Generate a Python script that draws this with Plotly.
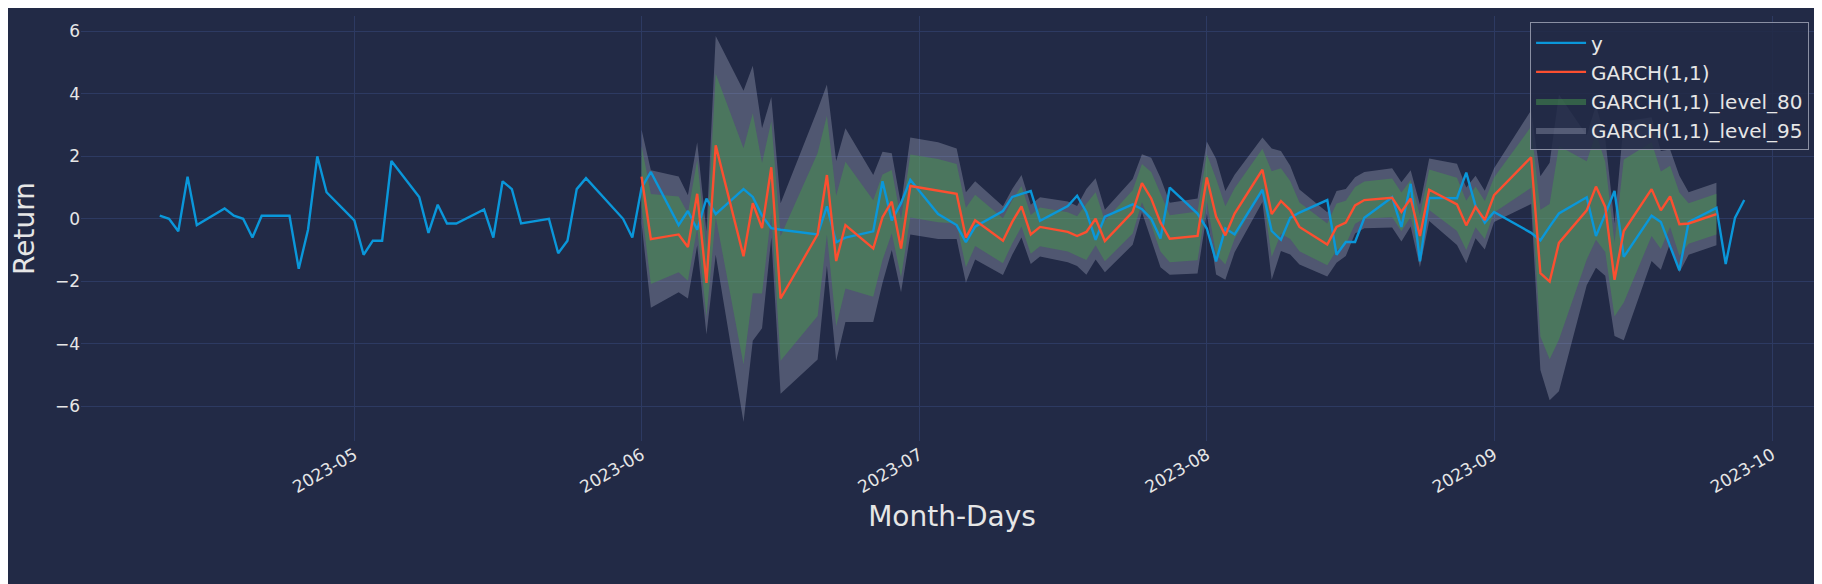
import plotly.graph_objects as go

# observed returns
y_dates = [
    "2023-04-10", "2023-04-11", "2023-04-12", "2023-04-13", "2023-04-14",
    "2023-04-17", "2023-04-18", "2023-04-19", "2023-04-20", "2023-04-21",
    "2023-04-24", "2023-04-25", "2023-04-26", "2023-04-27", "2023-04-28",
    "2023-05-01", "2023-05-02", "2023-05-03", "2023-05-04", "2023-05-05",
    "2023-05-08", "2023-05-09", "2023-05-10", "2023-05-11", "2023-05-12",
    "2023-05-15", "2023-05-16", "2023-05-17", "2023-05-18", "2023-05-19",
    "2023-05-22", "2023-05-23", "2023-05-24", "2023-05-25", "2023-05-26",
    "2023-05-30", "2023-05-31", "2023-06-01", "2023-06-02",
    "2023-06-05", "2023-06-06", "2023-06-07", "2023-06-08", "2023-06-09",
    "2023-06-12", "2023-06-13", "2023-06-14", "2023-06-15", "2023-06-16",
    "2023-06-20", "2023-06-21", "2023-06-22", "2023-06-23",
    "2023-06-26", "2023-06-27", "2023-06-28", "2023-06-29", "2023-06-30",
    "2023-07-03", "2023-07-05", "2023-07-06", "2023-07-07",
    "2023-07-10", "2023-07-11", "2023-07-12", "2023-07-13", "2023-07-14",
    "2023-07-17", "2023-07-18", "2023-07-19", "2023-07-20", "2023-07-21",
    "2023-07-24", "2023-07-25", "2023-07-26", "2023-07-27", "2023-07-28",
    "2023-07-31", "2023-08-01", "2023-08-02", "2023-08-03", "2023-08-04",
    "2023-08-07", "2023-08-08", "2023-08-09", "2023-08-10", "2023-08-11",
    "2023-08-14", "2023-08-15", "2023-08-16", "2023-08-17", "2023-08-18",
    "2023-08-21", "2023-08-22", "2023-08-23", "2023-08-24", "2023-08-25",
    "2023-08-28", "2023-08-29", "2023-08-30", "2023-08-31", "2023-09-01",
    "2023-09-05", "2023-09-06", "2023-09-07", "2023-09-08",
    "2023-09-11", "2023-09-12", "2023-09-13", "2023-09-14", "2023-09-15",
    "2023-09-18", "2023-09-19", "2023-09-20", "2023-09-21", "2023-09-22",
    "2023-09-25", "2023-09-26", "2023-09-27", "2023-09-28",
]
y_values = [
    0.1, 0.0, -0.4, 1.35, -0.2,
    0.33, 0.1, 0.0, -0.6, 0.1,
    0.1, -1.6, -0.35, 2.0, 0.85,
    -0.05, -1.15, -0.7, -0.7, 1.85,
    0.7, -0.45, 0.45, -0.15, -0.15,
    0.3, -0.6, 1.2, 0.95, -0.15,
    0.0, -1.1, -0.7, 0.95, 1.3,
    0.0, -0.6, 1.0, 1.5,
    -0.2, 0.25, -0.35, 0.65, 0.15,
    0.95, 0.7, 0.1, -0.3, -0.35,
    -0.5, 0.4, -0.75, -0.6,
    -0.4, 1.2, -0.05, 0.5, 1.25,
    0.15, -0.2, -0.75, -0.25,
    0.25, 0.7, 0.8, 0.89, -0.06,
    0.41, 0.74, 0.22, -0.67, 0.07,
    0.46, 0.31, 0.0, -0.63, 1.0,
    0.17, -0.31, -1.36, -0.31, -0.5,
    0.93, -0.39, -0.67, 0.03, 0.2,
    0.6, -1.15, -0.74, -0.74, 0.03,
    0.69, -0.26, 1.12, -1.36, 0.67,
    0.66, 1.48, 0.41, -0.12, 0.22,
    -0.45, -0.69, -0.25, 0.17,
    0.69, -0.55, 0.15, 0.89, -1.22,
    0.1, -0.1, -0.9, -1.65, -0.1,
    0.35, -1.45, 0.03, 0.6,
]

# GARCH(1,1) forecast
fc_dates = [
    "2023-06-01", "2023-06-02", "2023-06-05", "2023-06-06", "2023-06-07",
    "2023-06-08", "2023-06-09", "2023-06-12", "2023-06-13", "2023-06-14",
    "2023-06-15", "2023-06-16", "2023-06-20", "2023-06-21", "2023-06-22",
    "2023-06-23", "2023-06-26", "2023-06-27", "2023-06-28", "2023-06-29",
    "2023-06-30", "2023-07-03", "2023-07-05", "2023-07-06", "2023-07-07",
    "2023-07-10", "2023-07-11", "2023-07-12", "2023-07-13", "2023-07-14",
    "2023-07-17", "2023-07-18", "2023-07-19", "2023-07-20", "2023-07-21",
    "2023-07-24", "2023-07-25", "2023-07-26", "2023-07-27", "2023-07-28",
    "2023-07-31", "2023-08-01", "2023-08-02", "2023-08-03", "2023-08-04",
    "2023-08-07", "2023-08-08", "2023-08-09", "2023-08-10", "2023-08-11",
    "2023-08-14", "2023-08-15", "2023-08-16", "2023-08-17", "2023-08-18",
    "2023-08-21", "2023-08-22", "2023-08-23", "2023-08-24", "2023-08-25",
    "2023-08-28", "2023-08-29", "2023-08-30", "2023-08-31", "2023-09-01",
    "2023-09-05", "2023-09-06", "2023-09-07", "2023-09-08", "2023-09-11",
    "2023-09-12", "2023-09-13", "2023-09-14", "2023-09-15", "2023-09-18",
    "2023-09-19", "2023-09-20", "2023-09-21", "2023-09-22", "2023-09-25",
]
fc_mean = [
    1.35, -0.65, -0.5, -0.9, 0.8, -2.05, 2.35, -1.2, 0.5, -0.3,
    1.65, -2.55, -0.5, 1.4, -1.35, -0.2, -0.95, 0.05, 0.55, -0.95,
    1.05, 0.9, 0.8, -0.6, -0.05, -0.7, -0.1, 0.4, -0.5, -0.26,
    -0.42, -0.55, -0.42, 0.0, -0.71, 0.22, 1.14, 0.65, -0.12, -0.64,
    -0.55, 1.32, 0.07, -0.53, 0.17, 1.57, 0.15, 0.57, 0.28, -0.26,
    -0.82, -0.26, -0.12, 0.43, 0.6, 0.67, 0.22, 0.65, -0.55, 0.93,
    0.46, -0.21, 0.38, -0.04, 0.76, 1.97, -1.74, -2.01, -0.77, 0.27,
    1.03, 0.38, -1.95, -0.39, 0.95, 0.27, 0.72, -0.17, -0.15, 0.15,
]
# half widths of the 80% and 95% intervals
fc_w80 = [
    0.98, 1.44, 1.21, 1.08, 1.08, 1.08, 2.29, 3.46, 2.88, 2.09,
    1.47, 1.99, 2.61, 1.9, 2.09, 2.03, 1.54, 1.37, 1.01, 0.92,
    1.01, 1.01, 0.95, 0.95, 0.82, 0.72, 0.69, 0.65, 0.62, 0.62,
    0.63, 0.63, 0.9, 0.85, 0.65, 0.69, 0.61, 0.85, 0.93, 0.75,
    0.78, 0.75, 1.21, 0.93, 0.81, 0.67, 1.37, 1.05, 0.93, 0.78,
    0.67, 0.75, 0.7, 0.59, 0.59, 0.62, 0.62, 0.59, 0.65, 0.65,
    0.85, 0.79, 0.65, 0.61, 0.56, 0.98, 2.03, 2.48, 3.1, 1.57,
    1.7, 1.44, 1.18, 2.29, 1.5, 1.24, 0.98, 1.01, 0.65, 0.65,
]
fc_w95 = [
    1.5, 2.2, 1.85, 1.65, 1.65, 1.65, 3.5, 5.3, 4.4, 3.2,
    2.25, 3.05, 4.0, 2.9, 3.2, 3.1, 2.35, 2.1, 1.55, 1.4,
    1.55, 1.55, 1.45, 1.45, 1.25, 1.1, 1.05, 1.0, 0.95, 0.95,
    0.97, 0.96, 1.37, 1.3, 1.0, 1.05, 0.93, 1.3, 1.43, 1.15,
    1.2, 1.15, 1.85, 1.42, 1.24, 1.03, 2.1, 1.6, 1.42, 1.2,
    1.03, 1.15, 1.07, 0.9, 0.9, 0.95, 0.95, 0.9, 1.0, 1.0,
    1.3, 1.21, 1.0, 0.94, 0.86, 1.5, 3.1, 3.8, 4.75, 2.4,
    2.6, 2.2, 1.8, 3.5, 2.3, 1.9, 1.5, 1.55, 1.0, 1.0,
]

lo80 = [m - w for m, w in zip(fc_mean, fc_w80)]
hi80 = [m + w for m, w in zip(fc_mean, fc_w80)]
lo95 = [m - w for m, w in zip(fc_mean, fc_w95)]
hi95 = [m + w for m, w in zip(fc_mean, fc_w95)]

BG = "#222a46"
GRID = "#2d3a62"
TXT = "#e6e6e6"

fig = go.Figure()

# 95 band
fig.add_trace(go.Scatter(x=fc_dates, y=lo95, mode="lines", line=dict(width=0),
                         showlegend=False, hoverinfo="skip"))
fig.add_trace(go.Scatter(x=fc_dates, y=hi95, mode="lines", line=dict(width=0),
                         fill="tonexty", fillcolor="rgba(200,205,225,0.28)",
                         name="GARCH(1,1)_level_95", legendrank=4))
# 80 band
fig.add_trace(go.Scatter(x=fc_dates, y=lo80, mode="lines", line=dict(width=0),
                         showlegend=False, hoverinfo="skip"))
fig.add_trace(go.Scatter(x=fc_dates, y=hi80, mode="lines", line=dict(width=0),
                         fill="tonexty", fillcolor="rgba(70,150,75,0.5)",
                         name="GARCH(1,1)_level_80", legendrank=3))

fig.add_trace(go.Scatter(x=y_dates, y=y_values, mode="lines", name="y",
                         line=dict(color="#0a97da", width=2.4), legendrank=1))
fig.add_trace(go.Scatter(x=fc_dates, y=fc_mean, mode="lines", name="GARCH(1,1)",
                         line=dict(color="#fc4f30", width=2.4), legendrank=2))

fig.update_layout(
    width=1822, height=584,
    paper_bgcolor=BG, plot_bgcolor=BG,
    margin=dict(l=73, r=7, t=8, b=151),
    font=dict(family="DejaVu Sans", color=TXT),
    legend=dict(x=0.992, y=0.985, xanchor="right", yanchor="top",
                traceorder="normal",
                bgcolor="rgba(34,42,70,0.85)", bordercolor="#8a8fa3", borderwidth=1,
                font=dict(size=20, color=TXT), itemwidth=50),
    showlegend=True,
)
fig.update_xaxes(
    range=["2023-04-01 12:00", "2023-10-06 12:00"], automargin=False,
    dtick="M1", tick0="2023-05-01", tickformat="%Y-%m", tickangle=-30,
    tickfont=dict(size=17, color=TXT), showgrid=True, gridcolor=GRID,
    zeroline=False, showline=False, ticks="",
    title=dict(text="Month-Days", font=dict(size=28, color=TXT), standoff=10),
)
fig.update_yaxes(
    range=[-7.11, 6.49], dtick=2, tickfont=dict(size=17, color=TXT), automargin=False,
    showgrid=True, gridcolor=GRID, zeroline=False, showline=False, ticks="",
    title=dict(text="Return", font=dict(size=28, color=TXT), standoff=14),
)

fig.write_html("out.html")
